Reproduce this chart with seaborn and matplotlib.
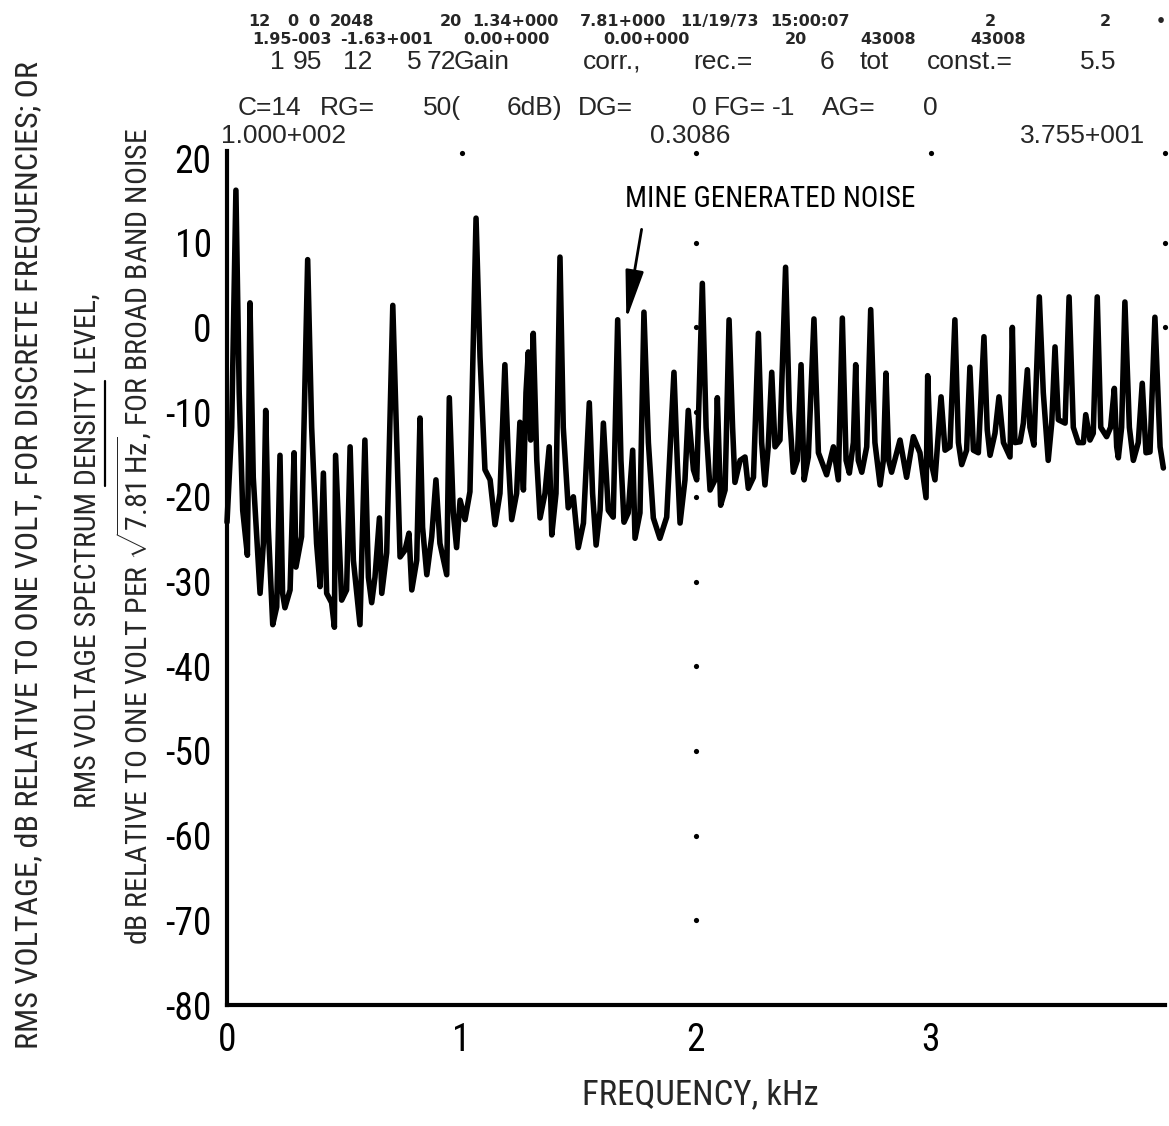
import matplotlib
matplotlib.use("Agg")
import matplotlib.pyplot as plt
from matplotlib import font_manager
from matplotlib.lines import Line2D
import seaborn as sns
import pandas as pd

W, H = 1169, 1126

# spectrum trace (kHz, dB re 1 V)
FREQ_KHZ = [
    0.000, 0.006, 0.020, 0.038, 0.052, 0.067, 0.087, 0.098, 0.112, 0.141,
    0.155, 0.165, 0.176, 0.195, 0.212, 0.226, 0.237, 0.247, 0.269, 0.286,
    0.294, 0.318, 0.344, 0.361, 0.382, 0.397, 0.411, 0.425, 0.446, 0.458,
    0.463, 0.482, 0.489, 0.510, 0.525, 0.539, 0.567, 0.588, 0.603, 0.617,
    0.631, 0.650, 0.660, 0.681, 0.707, 0.724, 0.738, 0.759, 0.776, 0.788,
    0.809, 0.823, 0.834, 0.852, 0.873, 0.891, 0.908, 0.937, 0.948, 0.965,
    0.979, 0.994, 1.015, 1.036, 1.062, 1.079, 1.100, 1.122, 1.143, 1.164,
    1.185, 1.200, 1.214, 1.235, 1.249, 1.264, 1.275, 1.285, 1.295, 1.306,
    1.321, 1.335, 1.356, 1.374, 1.385, 1.403, 1.420, 1.434, 1.455, 1.477,
    1.498, 1.520, 1.545, 1.559, 1.574, 1.591, 1.605, 1.626, 1.647, 1.666,
    1.680, 1.693, 1.711, 1.730, 1.740, 1.761, 1.778, 1.797, 1.818, 1.846,
    1.875, 1.906, 1.920, 1.932, 1.953, 1.967, 1.989,
    2.003, 2.027, 2.043, 2.060, 2.081, 2.091, 2.105, 2.124, 2.141, 2.156,
    2.166, 2.188, 2.209, 2.223, 2.245, 2.266, 2.280, 2.294, 2.308, 2.323,
    2.337, 2.358, 2.382, 2.398, 2.415, 2.432, 2.448, 2.461, 2.479, 2.503,
    2.522, 2.557, 2.586, 2.607, 2.624, 2.640, 2.654, 2.671, 2.681, 2.692,
    2.707, 2.728, 2.745, 2.763, 2.785, 2.799, 2.810, 2.822, 2.834, 2.870,
    2.898, 2.927, 2.955, 2.981, 2.988, 3.001, 3.019, 3.045, 3.062, 3.083,
    3.104, 3.119, 3.133, 3.154, 3.168, 3.183, 3.204, 3.228, 3.242, 3.254,
    3.275, 3.292, 3.311, 3.339, 3.349, 3.360, 3.382, 3.396, 3.413, 3.424,
    3.441, 3.464, 3.481, 3.502, 3.517, 3.531, 3.545, 3.574, 3.591, 3.609,
    3.630, 3.652, 3.662, 3.680, 3.694, 3.711, 3.726, 3.751, 3.768, 3.784,
    3.794, 3.801, 3.815, 3.829, 3.848, 3.865, 3.886, 3.903, 3.919, 3.936,
    3.957, 3.979, 3.993,
]
LEVEL_DB = [
    -23.0, -19.6, -11.8, 16.2, -7.7, -21.6, -26.9, 2.9, -17.7, -31.4,
    -25.5, -9.8, -23.6, -35.1, -33.0, -15.1, -31.4, -33.1, -31.0, -14.8,
    -28.3, -24.7, 8.0, -11.8, -25.5, -30.6, -17.2, -31.4, -32.5, -35.4,
    -15.1, -27.5, -32.2, -31.0, -14.1, -27.5, -35.1, -13.3, -29.5, -32.5,
    -29.5, -22.5, -31.4, -26.6, 2.6, -13.6, -27.1, -26.3, -24.3, -31.0,
    -27.5, -10.7, -23.6, -29.2, -24.7, -18.0, -25.5, -29.2, -8.3, -21.9,
    -26.0, -20.4, -22.7, -19.4, 12.9, -3.5, -16.8, -18.0, -23.3, -19.6,
    -4.4, -15.7, -22.7, -19.6, -11.2, -19.2, -7.7, -2.9, -13.3, -0.7,
    -15.7, -22.5, -19.6, -14.1, -24.5, -19.6, 8.3, -11.8, -21.3, -20.0,
    -26.0, -23.1, -8.9, -19.6, -25.7, -21.6, -11.3, -21.6, -22.4, 0.9,
    -15.7, -23.0, -21.9, -14.5, -24.9, -21.9, 1.8, -13.6, -22.5, -24.9,
    -22.4, -5.3, -15.7, -23.1, -18.0, -9.8, -16.8,
    -18.0, 5.2, -11.8, -19.2, -18.0, -8.3, -21.0, -19.2, 0.9, -11.8,
    -18.3, -15.7, -15.3, -19.0, -17.7, -0.7, -13.6, -18.6, -14.1, -5.3,
    -14.1, -13.3, 7.1, -9.8, -17.1, -15.7, -4.4, -18.0, -15.3, 1.0,
    -14.8, -17.4, -14.1, -18.0, 1.1, -15.7, -17.2, -13.6, -4.4, -15.7,
    -17.1, -14.1, 2.1, -13.6, -18.6, -15.7, -5.4, -15.7, -17.1, -13.3,
    -17.7, -12.9, -14.8, -20.1, -5.7, -15.7, -18.0, -8.2, -14.5, -14.1,
    0.9, -13.6, -16.2, -14.5, -4.7, -14.5, -14.8, -1.1, -12.1, -15.1,
    -12.5, -8.2, -13.6, -15.3, 0.0, -13.6, -13.5, -11.3, -5.0, -11.8,
    -13.9, 3.6, -7.7, -15.7, -11.3, -2.3, -10.9, -11.3, 3.6, -11.8,
    -13.6, -13.6, -10.3, -13.3, -12.5, 3.6, -11.8, -12.9, -11.8, -7.2,
    -14.1, -15.4, -11.8, 3.0, -11.8, -15.7, -13.6, -6.6, -14.8, -14.7,
    1.2, -14.1, -16.6,
]

# plotter grid dots
DOT_KHZ = [1, 2, 3, 4, 2, 2, 2, 2, 2, 2, 2, 2, 2, 4, 4]
DOT_DB = [20.6, 20.6, 20.6, 20.6, 10, 0, -10, -20, -30, -40, -50, -60, -70, 10, 0]

Y_TICKS = [20, 10, 0, -10, -20, -30, -40, -50, -60, -70, -80]
X_TICKS = [0, 1, 2, 3]
X_TICK_LABELS = ["0", "1", "2", "3"]

HEADER_1 = ["12", "0", "0", "2048", "20", "1.34+000", "7.81+000", "11/19/73",
            "15:00:07", "2", "2", "\u2022"]
HEADER_2 = ["1.95-003", "-1.63+001", "0.00+000", "0.00+000", "20", "43008", "43008"]
HEADER_3 = ["1", "95", "12", "5", "72", "Gain", "corr.,", "rec.=", "6", "tot",
            "const.=", "5.5"]
HEADER_4 = ["C=14", "RG=", "50(", "6dB)", "DG=", "0", "FG=", "-1", "AG=", "0"]
HEADER_5 = ["1.000+002", "0.3086", "3.755+001"]

Y_LABEL_1 = "RMS VOLTAGE, dB RELATIVE TO ONE VOLT, FOR DISCRETE FREQUENCIES; OR"
Y_LABEL_2 = "RMS VOLTAGE SPECTRUM DENSITY LEVEL,"
Y_LABEL_3 = r"dB RELATIVE TO ONE VOLT PER $\sqrt{\mathrm{7.81\,Hz}}$, FOR BROAD BAND NOISE"
X_LABEL = "FREQUENCY, kHz"
NOTE = "MINE GENERATED NOISE"

sns.set_theme(style="white")

# the plotter lettering is condensed; use a narrow face when one is installed
installed = {f.name for f in font_manager.fontManager.ttflist}
COND = None
for name in ["Roboto Condensed", "Liberation Sans Narrow", "Open Sans Condensed"]:
    if name in installed:
        COND = name
        break
if COND:
    SZ = dict(tick=27, note=21, ylab1=23, ylab2=21.5, ylab3=21.5, xlab=25)
    FAM = [COND, "Liberation Sans", "DejaVu Sans"]
else:
    SZ = dict(tick=27, note=17, ylab1=19, ylab2=19, ylab3=18, xlab=21)
    FAM = ["Liberation Sans", "DejaVu Sans"]

plt.rcParams["font.family"] = FAM
plt.rcParams["axes.unicode_minus"] = False
plt.rcParams["mathtext.fontset"] = "custom"
plt.rcParams["mathtext.rm"] = FAM[0]
plt.rcParams["mathtext.sf"] = FAM[0]


def fx(px):
    return px / W


def fy(py):
    return 1 - py / H


fig = plt.figure(figsize=(W / 100, H / 100), dpi=100)
fig.patch.set_facecolor("white")
# axis: 0 kHz at 227 px, 4 kHz at 1165 px; -80 dB at 1005 px, 8.47 px per dB
top_db = 20.8
ax = fig.add_axes([fx(227), fy(1005), (1165 - 227) / W, (top_db + 80) * 8.47 / H])
ax.set_xlim(0, 4)
ax.set_ylim(-80, top_db)

df = pd.DataFrame({"freq": FREQ_KHZ, "level": LEVEL_DB})
sns.lineplot(data=df, x="freq", y="level", sort=False, estimator=None,
             color="black", lw=4.0, ax=ax, clip_on=False)
sns.scatterplot(x=DOT_KHZ, y=DOT_DB, color="black", s=14, linewidth=0,
                ax=ax, clip_on=False, zorder=3)

for side in ["top", "right"]:
    ax.spines[side].set_visible(False)
for side in ["left", "bottom"]:
    ax.spines[side].set_linewidth(3)
    ax.spines[side].set_color("black")

ax.set_yticks(Y_TICKS)
ax.set_yticklabels([str(v) for v in Y_TICKS])
ax.set_xticks(X_TICKS)
ax.set_xticklabels(X_TICK_LABELS)
ax.tick_params(axis="both", direction="inout", length=12, width=2.5,
               colors="black", labelsize=SZ["tick"])
ax.tick_params(axis="y", pad=5)
ax.tick_params(axis="x", pad=6)
ax.set_xlabel("")
ax.set_ylabel("")
ax.grid(False)

ax.annotate("", xy=(1.701, 0.6), xytext=(1.770, 11.9),
            arrowprops=dict(arrowstyle="-|>,head_length=1.5,head_width=0.28",
                            color="black", lw=2, mutation_scale=20))
ax.text(2.316, 15.2, NOTE, ha="center", va="center", fontsize=SZ["note"], color="black")

fig.text(fx(700), fy(1095), X_LABEL, ha="center", va="center", fontsize=SZ["xlab"])

fig.text(fx(29), fy(555), Y_LABEL_1, rotation=90, ha="center", va="center",
         fontsize=SZ["ylab1"])
t2 = fig.text(fx(88), fy(551), Y_LABEL_2, rotation=90, ha="center", va="center",
              fontsize=SZ["ylab2"])
fig.text(fx(134), fy(537), Y_LABEL_3, rotation=90, ha="center", va="center",
         fontsize=SZ["ylab3"])

# header block printed by the analyser
h1_x = [248, 287, 308, 330, 440, 472, 580, 680, 770, 985, 1100, 1156]
h2_x = [252, 340, 463, 603, 785, 860, 970]
h3_x = [270, 293, 343, 407, 427, 454, 583, 693, 820, 860, 927, 1080]
h4_x = [238, 320, 423, 507, 578, 692, 714, 772, 822, 923]
h5_x = [221, 650, 1020]
small = dict(fontsize=11.5, fontweight="bold", family=["DejaVu Sans"], va="baseline")
big = dict(fontsize=19, family=["Liberation Sans", "DejaVu Sans"], va="baseline")
for s, x in zip(HEADER_1, h1_x):
    fig.text(fx(x), fy(26), s, **small)
for s, x in zip(HEADER_2, h2_x):
    fig.text(fx(x), fy(44), s, **small)
for s, x in zip(HEADER_3, h3_x):
    fig.text(fx(x), fy(69), s, **big)
for s, x in zip(HEADER_4, h4_x):
    fig.text(fx(x), fy(115), s, **big)
for s, x in zip(HEADER_5, h5_x):
    fig.text(fx(x), fy(143), s, **big)

# underline "DENSITY" in the second label line
fig.canvas.draw()
r = fig.canvas.get_renderer()
bb = t2.get_window_extent(r)
prop = t2.get_fontproperties()
w_pre, _, _ = r.get_text_width_height_descent("RMS VOLTAGE SPECTRUM ", prop, ismath=False)
w_den, _, d = r.get_text_width_height_descent("DENSITY", prop, ismath=False)
ux = bb.x1 - d + 3
fig.add_artist(Line2D([ux / W, ux / W], [(bb.y0 + w_pre) / H, (bb.y0 + w_pre + w_den) / H],
                      color="black", lw=1.6))

fig.savefig("out.png", dpi=100, facecolor="white")
